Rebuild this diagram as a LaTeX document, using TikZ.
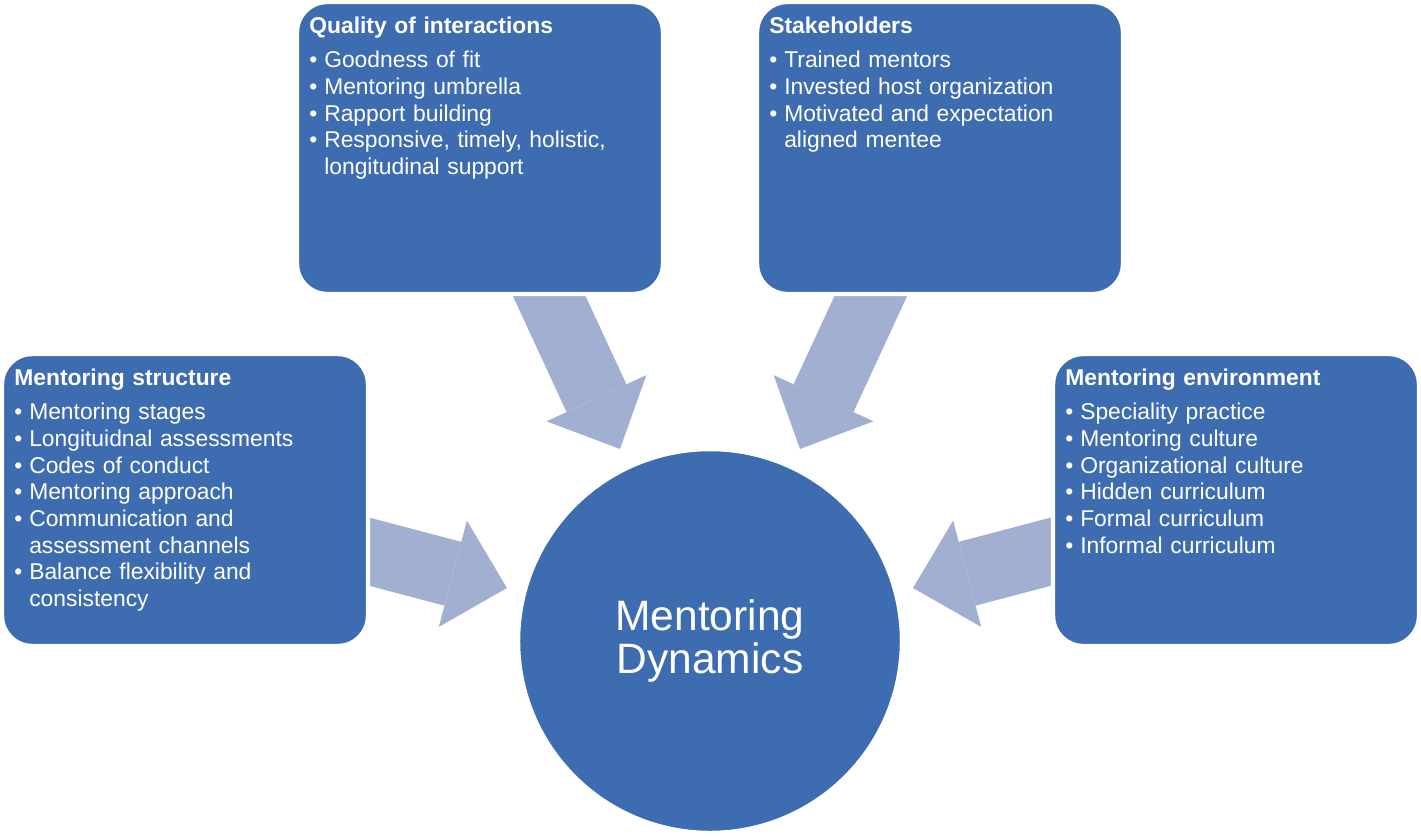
\documentclass[tikz,border=0pt]{standalone}
\usepackage{fontspec}
\setmainfont{Liberation Sans}
\usetikzlibrary{positioning,arrows.meta}
\definecolor{boxblue}{RGB}{61,108,176}
\definecolor{arrowblue}{RGB}{161,176,208}
% one bullet item, hanging indent for wrapped lines
\newcommand{\itm}[1]{\par\hangindent=8.5pt\hangafter=1\noindent\makebox[8.5pt][l]{•}#1\par}

\begin{document}
\begin{tikzpicture}[
  x=0.02cm, y=-0.02cm,
  panel/.style={draw=white, line width=2.5pt, fill=boxblue, rounded corners=0.6cm,
    minimum width=7.32cm, minimum height=5.84cm, inner sep=0pt},
  ptext/.style={text=white, anchor=base west, inner sep=0pt, text width=6.9cm,
    font=\fontsize{13}{15.2}\selectfont\raggedright},
  hub/.style={circle, draw=white, line width=2.5pt, fill=boxblue, minimum size=7.68cm,
    inner sep=0pt, text=white, align=center, font=\fontsize{24.2}{24.5}\selectfont},
  flow/.style={arrowblue, line width=1.32cm,
    -{Triangle[width=2.2cm, length=1.12cm, line width'=0pt]}}
]
  \useasboundingbox (0,0) rectangle (1421,836);

  % arrow ends (tails sit under the boxes)
  \coordinate (qi-out) at (533,261);    \coordinate (qi-in) at (620,449);
  \coordinate (sh-out) at (887,261);    \coordinate (sh-in) at (800,449);
  \coordinate (ms-out) at (331,541.6);  \coordinate (ms-in) at (507,588);
  \coordinate (me-out) at (1089,541.6); \coordinate (me-in) at (913,588);

  % --- block arrows (drawn first)
  \draw[flow] (qi-out) -- (qi-in);
  \draw[flow] (sh-out) -- (sh-in);
  \draw[flow] (ms-out) -- (ms-in);
  \draw[flow] (me-out) -- (me-in);

  % --- boxes
  \node[panel] (qi) at (480,148) {};
  \node[panel] (sh) at (940,148) {};
  \node[panel] (ms) at (185,500) {};
  \node[panel] (me) at (1236,500) {};

  % --- centre
  \node[hub] (dyn) at (710,641) {Mentoring\\Dynamics};

  % --- box texts
  \node[ptext] (qi-txt) at (309,33) {\textbf{Quality of interactions}\par\vspace{4.5pt}%
    \itm{Goodness of fit}
    \itm{Mentoring umbrella}
    \itm{Rapport building}
    \itm{Responsive, timely, holistic,\newline longitudinal support}};
  \node[ptext] (sh-txt) at (769,33) {\textbf{Stakeholders}\par\vspace{4.5pt}%
    \itm{Trained mentors}
    \itm{Invested host organization}
    \itm{Motivated and expectation\newline aligned mentee}};
  \node[ptext] (ms-txt) at (14,385) {\textbf{Mentoring structure}\par\vspace{4.5pt}%
    \itm{Mentoring stages}
    \itm{Longituidnal assessments}
    \itm{Codes of conduct}
    \itm{Mentoring approach}
    \itm{Communication and\newline assessment channels}
    \itm{Balance flexibility and\newline consistency}};
  \node[ptext] (me-txt) at (1065,385) {\textbf{Mentoring environment}\par\vspace{4.5pt}%
    \itm{Speciality practice}
    \itm{Mentoring culture}
    \itm{Organizational culture}
    \itm{Hidden curriculum}
    \itm{Formal curriculum}
    \itm{Informal curriculum}};
\end{tikzpicture}
\end{document}
